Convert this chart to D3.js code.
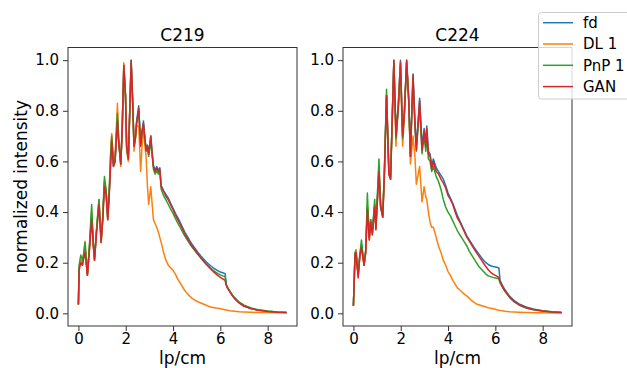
<!DOCTYPE html>
<html><head><meta charset="utf-8">
<script src="https://cdn.jsdelivr.net/npm/d3@7"></script>
<style>body{margin:0;background:#fff} svg{display:block} text{font-family:"DejaVu Sans",sans-serif}</style>
</head><body><svg id="c" width="627" height="368"></svg>
<script>
const seriesNames = ["fd", "DL 1", "PnP 1", "GAN"];
const seriesColors = ["#1f77b4", "#ff7f0e", "#2ca02c", "#d62728"];
const panelTitles = ["C219", "C224"];
const xTicks = [0, 2, 4, 6, 8];
const yTicks = [0, 0.2, 0.4, 0.6, 0.8, 1.0];

// ---- C219 ----
const xC219 = [0.00,0.03,0.10,0.17,0.23,0.28,0.38,0.46,0.56,0.63,
  0.68,0.77,0.87,0.96,1.03,1.10,1.17,1.24,1.31,1.37,
  1.41,1.48,1.55,1.65,1.70,1.79,1.85,1.92,1.99,2.04,
  2.11,2.17,2.23,2.30,2.35,2.41,2.46,2.55,2.63,2.69,
  2.75,2.80,2.86,2.92,2.97,3.06,3.11,3.17,3.24,3.31,
  3.38,3.44,3.50,3.60,3.70,3.80,3.90,4.00,4.10,4.20,
  4.30,4.40,4.50,4.60,4.70,4.80,4.90,5.00,5.10,5.20,
  5.30,5.40,5.50,5.60,5.70,5.80,5.90,6.00,6.10,6.20,
  6.25,6.30,6.40,6.50,6.60,6.80,7.00,7.30,7.60,8.00,8.40,8.80];
const fdC219 = [0.035,0.18,0.21,0.19,0.23,0.26,0.15,0.25,0.39,0.27,
  0.21,0.33,0.44,0.28,0.38,0.52,0.48,0.37,0.49,0.62,
  0.69,0.58,0.60,0.77,0.68,0.59,0.72,0.98,0.86,0.66,
  0.61,0.80,1.00,0.82,0.66,0.70,0.76,0.82,0.66,0.72,
  0.76,0.70,0.65,0.665,0.63,0.70,0.64,0.585,0.565,0.58,
  0.565,0.575,0.505,0.485,0.47,0.455,0.435,0.415,0.395,0.378,
  0.360,0.340,0.320,0.305,0.288,0.273,0.260,0.247,0.235,0.224,
  0.214,0.204,0.195,0.187,0.180,0.174,0.168,0.163,0.160,0.157,
  0.115,0.103,0.088,0.073,0.061,0.042,0.030,0.019,0.013,0.008,0.005,0.003];
const dlC219 = [0.035,0.18,0.21,0.20,0.24,0.285,0.15,0.25,0.40,0.27,
  0.21,0.33,0.45,0.28,0.38,0.52,0.48,0.37,0.50,0.66,
  0.71,0.60,0.62,0.83,0.69,0.58,0.73,0.99,0.86,0.64,
  0.60,0.79,0.98,0.82,0.64,0.70,0.74,0.74,0.56,0.66,
  0.73,0.67,0.62,0.50,0.43,0.50,0.44,0.37,0.355,0.34,
  0.32,0.30,0.28,0.24,0.21,0.19,0.18,0.17,0.155,0.135,
  0.12,0.105,0.09,0.078,0.068,0.06,0.053,0.048,0.044,0.040,
  0.036,0.032,0.028,0.025,0.023,0.021,0.020,0.018,0.016,0.014,
  0.013,0.012,0.010,0.009,0.008,0.006,0.005,0.004,0.003,0.003,0.002,0.002];
const pnpC219 = [0.035,0.19,0.23,0.21,0.24,0.28,0.16,0.26,0.43,0.28,
  0.22,0.34,0.45,0.29,0.38,0.54,0.49,0.38,0.50,0.64,
  0.70,0.59,0.61,0.79,0.69,0.59,0.73,0.97,0.86,0.65,
  0.61,0.79,0.99,0.81,0.66,0.69,0.75,0.80,0.67,0.71,
  0.74,0.70,0.64,0.65,0.62,0.68,0.63,0.57,0.55,0.565,
  0.55,0.56,0.49,0.465,0.448,0.43,0.412,0.395,0.375,0.356,
  0.34,0.322,0.305,0.29,0.276,0.262,0.25,0.238,0.227,0.216,
  0.206,0.196,0.187,0.178,0.170,0.163,0.157,0.152,0.148,0.145,
  0.113,0.102,0.088,0.074,0.062,0.044,0.032,0.021,0.014,0.009,0.005,0.003];
const ganC219 = [0.035,0.17,0.20,0.19,0.22,0.24,0.15,0.24,0.37,0.27,
  0.21,0.32,0.43,0.28,0.37,0.50,0.47,0.37,0.48,0.60,
  0.68,0.58,0.60,0.76,0.68,0.59,0.72,0.98,0.86,0.66,
  0.61,0.80,1.00,0.82,0.66,0.69,0.75,0.81,0.66,0.72,
  0.75,0.70,0.645,0.66,0.63,0.70,0.64,0.58,0.56,0.575,
  0.56,0.57,0.50,0.482,0.462,0.448,0.428,0.410,0.388,0.370,
  0.352,0.333,0.313,0.297,0.281,0.266,0.254,0.240,0.228,0.216,
  0.205,0.194,0.184,0.174,0.165,0.157,0.149,0.142,0.136,0.130,
  0.110,0.100,0.085,0.070,0.058,0.040,0.028,0.018,0.012,0.007,0.004,0.003];

// ---- C224 ----
const xC224 = [0.00,0.07,0.11,0.20,0.27,0.34,0.45,0.52,0.59,0.67,
  0.73,0.80,0.90,0.95,1.08,1.15,1.24,1.31,1.40,1.50,
  1.57,1.71,1.80,1.90,1.99,2.08,2.15,2.25,2.34,2.41,
  2.52,2.60,2.66,2.80,2.90,2.99,3.06,3.10,3.17,3.24,
  3.31,3.38,3.50,3.60,3.70,3.80,3.90,4.00,4.10,4.20,
  4.30,4.40,4.50,4.60,4.70,4.80,4.90,5.00,5.10,5.20,
  5.30,5.40,5.50,5.60,5.70,5.80,5.90,6.00,6.10,6.15,
  6.20,6.30,6.40,6.50,6.60,6.80,7.00,7.30,7.60,8.00,
  8.40,8.80];
const fdC224 = [0.03,0.24,0.25,0.15,0.23,0.27,0.19,0.25,0.42,0.30,
  0.37,0.32,0.43,0.34,0.57,0.43,0.39,0.56,0.86,0.56,
  0.54,1.00,0.71,0.83,1.00,0.71,0.79,1.00,0.85,0.63,
  0.945,0.76,0.66,0.85,0.66,0.73,0.67,0.74,0.64,0.63,
  0.585,0.61,0.575,0.56,0.545,0.53,0.505,0.475,0.455,0.435,
  0.41,0.385,0.365,0.345,0.325,0.305,0.29,0.275,0.26,0.247,
  0.235,0.222,0.21,0.20,0.193,0.188,0.185,0.183,0.181,0.179,
  0.13,0.11,0.094,0.081,0.068,0.05,0.037,0.025,0.017,0.01,
  0.006,0.003];
const dlC224 = [0.03,0.23,0.25,0.15,0.22,0.27,0.19,0.24,0.42,0.29,
  0.36,0.31,0.43,0.33,0.57,0.42,0.38,0.55,0.86,0.55,
  0.53,0.99,0.66,0.82,0.99,0.66,0.78,0.99,0.84,0.59,
  0.70,0.62,0.51,0.58,0.44,0.50,0.46,0.45,0.40,0.36,
  0.34,0.34,0.30,0.265,0.24,0.21,0.19,0.165,0.15,0.13,
  0.115,0.10,0.092,0.083,0.075,0.068,0.06,0.05,0.043,0.037,
  0.034,0.031,0.028,0.025,0.022,0.02,0.018,0.016,0.013,0.012,
  0.011,0.01,0.008,0.007,0.006,0.005,0.004,0.003,0.002,0.002,
  0.001,0.001];
const pnpC224 = [0.03,0.24,0.24,0.15,0.23,0.29,0.19,0.25,0.475,0.30,
  0.37,0.32,0.45,0.34,0.61,0.42,0.38,0.56,0.885,0.55,
  0.53,0.99,0.69,0.81,0.98,0.69,0.78,0.99,0.83,0.62,
  0.93,0.74,0.64,0.82,0.63,0.70,0.64,0.70,0.61,0.60,
  0.56,0.58,0.54,0.52,0.49,0.45,0.42,0.40,0.385,0.365,
  0.345,0.325,0.31,0.295,0.28,0.265,0.245,0.23,0.215,0.20,
  0.185,0.175,0.165,0.155,0.148,0.145,0.142,0.140,0.138,0.135,
  0.12,0.103,0.088,0.075,0.063,0.045,0.033,0.021,0.014,0.009,
  0.005,0.003];
const ganC224 = [0.03,0.23,0.24,0.14,0.225,0.26,0.19,0.24,0.41,0.29,
  0.36,0.31,0.42,0.33,0.56,0.42,0.38,0.55,0.86,0.55,
  0.53,1.00,0.70,0.82,0.99,0.70,0.78,1.00,0.84,0.62,
  0.94,0.75,0.645,0.84,0.645,0.72,0.66,0.73,0.63,0.62,
  0.57,0.60,0.56,0.55,0.53,0.515,0.495,0.465,0.45,0.43,
  0.40,0.375,0.36,0.34,0.32,0.30,0.285,0.27,0.255,0.24,
  0.226,0.212,0.198,0.185,0.172,0.162,0.155,0.150,0.145,0.140,
  0.125,0.105,0.09,0.077,0.064,0.046,0.034,0.022,0.015,0.009,
  0.005,0.003];

const panels = [
  {title: panelTitles[0], x: xC219, vals: [fdC219, dlC219, pnpC219, ganC219], left: 68},
  {title: panelTitles[1], x: xC224, vals: [fdC224, dlC224, pnpC224, ganC224], left: 343}
];

const svg = d3.select("#c");
const W = 229, yTop = 47.5, yBottom = 326;
const y = d3.scaleLinear().domain([-0.05, 1.05]).range([yBottom, yTop]);
const axisColor = "#333";

panels.forEach(p => {
  const x = d3.scaleLinear().domain([-0.44, 9.24]).range([p.left, p.left + W]);
  const g = svg.append("g");
  const line = d3.line().x(d => x(d[0])).y(d => y(d[1]));
  p.vals.forEach((vals, i) => {
    const n = Math.min(vals.length, p.x.length);
    const pts = d3.range(n).map(j => [p.x[j], vals[j]]);
    g.append("path").datum(pts).attr("d", line)
      .attr("fill", "none").attr("stroke", seriesColors[i])
      .attr("stroke-width", 1.5).attr("stroke-linejoin", "round");
  });
  const ax = g.append("g").attr("transform", `translate(0,${yBottom})`)
    .call(d3.axisBottom(x).tickValues(xTicks).tickSize(5).tickPadding(2).tickFormat(d3.format("d")));
  const ay = g.append("g").attr("transform", `translate(${p.left},0)`)
    .call(d3.axisLeft(y).tickValues(yTicks).tickSize(5).tickPadding(4).tickFormat(d3.format(".1f")));
  [ax, ay].forEach(a => {
    a.select(".domain").remove();
    a.selectAll(".tick line").attr("stroke", axisColor);
    a.selectAll(".tick text").attr("fill", "#000").style("font-size", "15px").style("font-family", '"DejaVu Sans"');
  });
  g.append("rect").attr("x", p.left).attr("y", yTop).attr("width", W).attr("height", yBottom - yTop)
    .attr("fill", "none").attr("stroke", axisColor).attr("stroke-width", 1);
  g.append("text").attr("x", p.left + W / 2).attr("y", 41).attr("text-anchor", "middle")
    .style("font-size", "17px").text(p.title);
  g.append("text").attr("x", p.left + W / 2).attr("y", 364).attr("text-anchor", "middle")
    .style("font-size", "17px").text("lp/cm");
});

svg.append("text").attr("transform", `translate(27,${(yTop + yBottom) / 2}) rotate(-90)`)
  .attr("text-anchor", "middle").style("font-size", "17px").text("normalized intensity");

// legend
const lg = svg.append("g");
lg.append("rect").attr("x", 538.5).attr("y", 12.5).attr("width", 100).attr("height", 86.5)
  .attr("rx", 3).attr("fill", "#fff").attr("fill-opacity", 0.8).attr("stroke", "#ccc");
seriesNames.forEach((name, i) => {
  const yy = 22.7 + i * 21.3;
  lg.append("line").attr("x1", 543).attr("x2", 573).attr("y1", yy).attr("y2", yy)
    .attr("stroke", seriesColors[i]).attr("stroke-width", 1.5);
  lg.append("text").attr("x", 583).attr("y", yy).attr("dy", "0.35em")
    .style("font-size", "15px").text(name);
});
</script></body></html>
